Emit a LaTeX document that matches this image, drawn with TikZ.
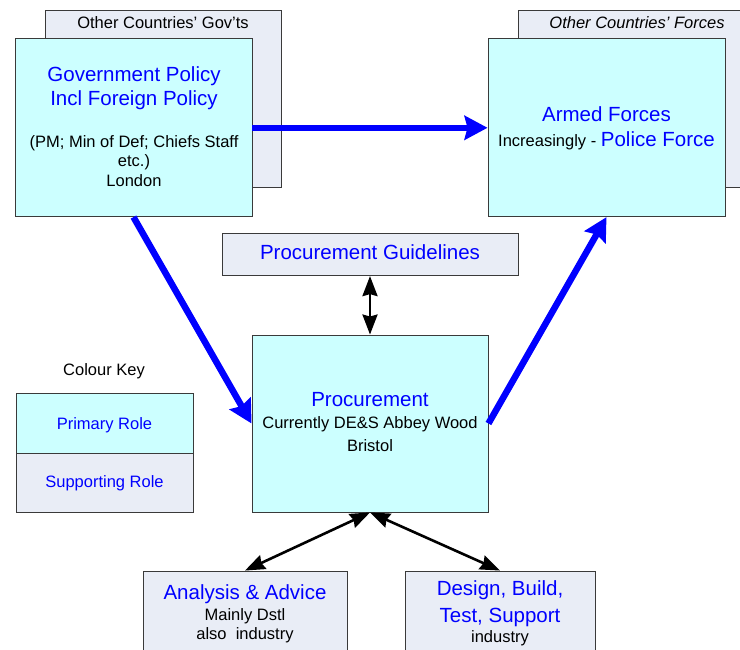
\documentclass[tikz,border=0pt]{standalone}
\usepackage{fontspec}
\setmainfont{Liberation Sans}
\usetikzlibrary{arrows.meta}
\definecolor{prim}{HTML}{CCFFFF}
\definecolor{supp}{HTML}{E9EDF6}
\definecolor{tblue}{HTML}{0000FF}
\definecolor{edge}{HTML}{3A3A3A}
\begin{document}
\begin{tikzpicture}[x=1pt,y=-1pt,
  anybox/.style={rectangle, draw=edge, line width=0.9pt, inner sep=0pt},
  primbox/.style={anybox, fill=prim},
  suppbox/.style={anybox, fill=supp},
  big/.style={font=\fontsize{20.5}{24}\selectfont, text=tblue, anchor=base, inner sep=0pt},
  small/.style={font=\fontsize{16.5}{19}\selectfont, text=black, anchor=base, inner sep=0pt},
  bluearrow/.style={draw=tblue, line width=6.5pt, -{Stealth[length=23pt,width=24pt,inset=3pt]}},
  dblarrow/.style={draw=black, line width=2.6pt, {Stealth[length=20pt,width=15pt,inset=2pt]}-{Stealth[length=20pt,width=15pt,inset=2pt]}}
]
\clip (0,0) rectangle (740,650);
\fill[white] (0,0) rectangle (740,650);

% back boxes
\node[suppbox, minimum width=236pt, minimum height=177pt] (govback) at (163,98.5) {};
\node[suppbox, minimum width=237pt, minimum height=177pt] (armback) at (636.5,98.5) {};
\node[small] (govbackt) at (163,29) {Other Countries’ Gov’ts};
\node[small, font=\fontsize{16.5}{19}\selectfont\itshape] (armbackt) at (637,29) {Other Countries’ Forces};

% front boxes
\node[primbox, minimum width=237pt, minimum height=177.7pt] (gov) at (133.5,127.8) {};
\node[primbox, minimum width=237pt, minimum height=177.7pt] (armed) at (606.5,127.8) {};
\node[suppbox, minimum width=296pt, minimum height=41.7pt] (guide) at (370,254.8) {};
\node[primbox, minimum width=236pt, minimum height=177pt] (proc) at (370,423.5) {};
\node[primbox, minimum width=177pt, minimum height=60pt] (keyp) at (104.5,423) {};
\node[suppbox, minimum width=177pt, minimum height=59pt] (keys) at (104.5,482.5) {};
\node[suppbox, minimum width=204pt, minimum height=100pt] (anal) at (245,621) {};
\node[suppbox, minimum width=190pt, minimum height=100pt] (design) at (500,621) {};

% texts
\node[big] (g1) at (134,81.7) {Government Policy};
\node[big] (g2) at (134,106) {Incl Foreign Policy};
\node[small] (g3) at (134,147.7) {(PM; Min of Def; Chiefs Staff};
\node[small] (g4) at (134,166.7) {etc.)};
\node[small] (g5) at (134,186.7) {London};

\node[big] (a1) at (606.5,121.7) {Armed Forces};
\node[small] (a2) at (606.5,146.7) {Increasingly - {\fontsize{20.5}{24}\selectfont\color{tblue}Police Force}};

\node[big] (pg) at (370,260) {Procurement Guidelines};

\node[big] (p1) at (370,406.7) {Procurement};
\node[small] (p2) at (370,428.3) {Currently DE\&S Abbey Wood};
\node[small] (p3) at (370,451) {Bristol};

\node[small] (ck) at (104,375) {Colour Key};
\node[small, text=tblue] (kp) at (104.5,429) {Primary Role};
\node[small, text=tblue] (ks) at (104.5,487.7) {Supporting Role};

\node[big] (an1) at (245,599) {Analysis \& Advice};
\node[small] (an2) at (245,620) {Mainly Dstl};
\node[small] (an3) at (245,639.3) {also\ \ industry};

\node[big] (d1) at (500,595.7) {Design, Build,};
\node[big] (d2) at (500,622.3) {Test, Support};
\node[small] (d3) at (500,642.7) {industry};

% connectors
\draw[bluearrow] (gov.east) -- (armed.west);
\draw[bluearrow] (gov.south) -- (proc.west);
\draw[bluearrow] (proc.east) -- (armed.south);
\draw[dblarrow] (guide.south) -- (proc.north);
\draw[dblarrow] (proc.south) -- (anal.north);
\draw[dblarrow] (proc.south) -- (design.north);
\end{tikzpicture}
\end{document}
